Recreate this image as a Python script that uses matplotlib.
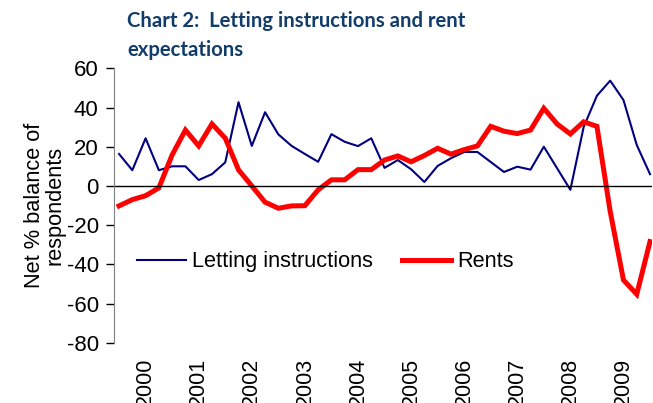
import numpy as np
import matplotlib.pyplot as plt

# quarterly, 1999 Q3 .. 2009 Q3
letting = [16.3, 8, 24.3, 8, 10, 10, 3, 6, 12, 42.7,
           20.4, 37.6, 26.3, 20.4, 16.3, 12.3, 26.4, 22.5, 20.3, 24.3,
           9.2, 13.2, 8.5, 2, 10.2, 14.1, 17.3, 17.3, 12.2, 7.1,
           9.8, 8.3, 20, 9, -2, 30, 46, 53.7, 43.8, 20.9, 6]
rents = [-10.2, -7, -5, -1, 15.8, 28.5, 20.4, 31.6, 24.4, 8.2,
         0, -8.3, -11.4, -10.2, -10.1, -2, 3.1, 3.1, 8.3, 8.3,
         13.2, 15.3, 12.3, 15.5, 19.2, 16.2, 18.5, 20.4, 30.4, 27.9,
         26.7, 28.5, 39.6, 31.6, 26.5, 32.7, 30.4, -13, -48, -55.3, -28.4]
years = ["2000", "2001", "2002", "2003", "2004",
         "2005", "2006", "2007", "2008", "2009"]
year_pos = [2 + 4 * k for k in range(len(years))]

plt.rcParams['font.family'] = ['Liberation Sans', 'DejaVu Sans']
plt.rcParams['axes.unicode_minus'] = False

fig = plt.figure(figsize=(6.53, 4.03), dpi=100)
ax = fig.add_axes([114 / 653, 1 - 342.7 / 403, (652 - 114) / 653, (342.7 - 68.3) / 403])

x = np.arange(len(letting))
ax.plot(x, letting, color='#000080', lw=1.5, label='Letting instructions')
ax.plot(x, rents, color='#ff0000', lw=3.6, label='Rents', solid_joinstyle='miter')
ax.axhline(0, color='black', lw=1)

ax.set_xlim(-0.38, 40.15)
ax.set_ylim(-80, 60)
ax.set_yticks(range(-80, 61, 20))
ax.set_xticks(year_pos)
ax.set_xticklabels(years, rotation=90, va='top', ha='center')
ax.tick_params(axis='x', length=0, pad=11, labelsize=15.5)
ax.tick_params(axis='y', direction='out', length=6, width=1, pad=5, labelsize=16, colors='black')
for s in ['top', 'right', 'bottom']:
    ax.spines[s].set_visible(False)
ax.spines['left'].set_color('#808080')

ax.set_ylabel("Net % balance of\nrespondents", fontsize=15.7, linespacing=0.95, labelpad=1)

ax.legend(ncol=2, frameon=False, fontsize=15.7, handlelength=2.25, handletextpad=0.3,
          columnspacing=1.3, loc='center left', bbox_to_anchor=(0.026, 0.295),
          borderaxespad=0)

fig.text(127 / 653, 1 - 11 / 403, "Chart 2:  Letting instructions and rent\nexpectations",
         fontsize=14.6, fontweight='bold', color='#123d6b', family='Lato',
         va='top', ha='left', linespacing=1.55)

fig.savefig('out.png', dpi=100)
